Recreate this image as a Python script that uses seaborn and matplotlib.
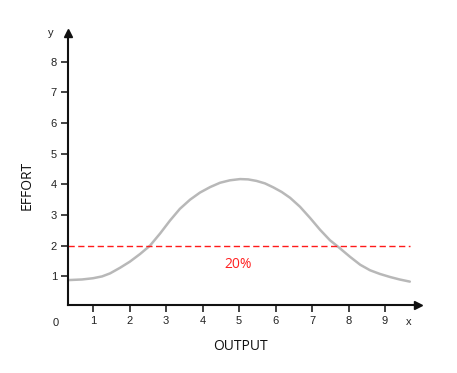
import numpy as np
import pandas as pd
import matplotlib
matplotlib.use("Agg")
import matplotlib.pyplot as plt
import seaborn as sns

# Data
output_x = [0.33, 0.7, 1.0, 1.25, 1.47, 1.74, 2.01, 2.29, 2.56, 2.84, 3.11, 3.38, 3.66,
            3.93, 4.21, 4.48, 4.75, 5.03, 5.25, 5.48, 5.71, 5.94, 6.17, 6.4, 6.67,
            6.95, 7.22, 7.49, 7.72, 8.04, 8.32, 8.59, 8.86, 9.14, 9.4, 9.68]
effort_y = [0.88, 0.90, 0.94, 1.00, 1.10, 1.28, 1.48, 1.73, 2.00, 2.40, 2.82, 3.20, 3.50,
            3.73, 3.91, 4.05, 4.13, 4.17, 4.16, 4.11, 4.03, 3.90, 3.75, 3.56, 3.27,
            2.90, 2.52, 2.18, 1.96, 1.64, 1.38, 1.20, 1.08, 0.98, 0.90, 0.83]
threshold = 2.0
threshold_label = "20%"
x_ticks = [1, 2, 3, 4, 5, 6, 7, 8, 9]
y_ticks = [1, 2, 3, 4, 5, 6, 7, 8]

df = pd.DataFrame({"OUTPUT": output_x, "EFFORT": effort_y})

sns.set_style("white")
plt.rcParams['font.family'] = ['Liberation Sans', 'DejaVu Sans']

W, H = 457, 373
fig = plt.figure(figsize=(W / 100, H / 100), dpi=100)
ax = fig.add_axes([68 / W, 1 - 305 / H, (418 - 68) / W, (305 - 33) / H])

x0 = (68 - 56.5) / 36.5
x1 = (418 - 56.5) / 36.5
y0 = (307.1 - 305) / 30.7
y1 = (307.1 - 33) / 30.7

sns.lineplot(data=df, x="OUTPUT", y="EFFORT", ax=ax, color="#b8b8b8", linewidth=1.8, sort=False)
ax.plot([x0, 9.68], [threshold, threshold], color="#ff1a1a", linewidth=1.0,
        dashes=(4.5, 2.5))
ax.text(4.97, 1.40, threshold_label, color="#ff2020", fontsize=10, family=['Open Sans', 'DejaVu Sans'],
        ha="center", va="center")

ax.set_xlim(x0, x1)
ax.set_ylim(y0, y1)
ax.set_xticks(x_ticks)
ax.set_yticks(y_ticks)
ax.set_xticklabels([str(t) for t in x_ticks])
ax.set_yticklabels([str(t) for t in y_ticks])
ax.tick_params(axis="both", direction="out", length=5, width=1.2, color="#222222",
               labelsize=8, labelcolor="#222222", pad=3, bottom=True, left=True)

for s in ["top", "right"]:
    ax.spines[s].set_visible(False)
for s in ["left", "bottom"]:
    ax.spines[s].set_linewidth(1.5)
    ax.spines[s].set_color("#111111")

ax.plot(1, 0, marker=">", color="#111111", markersize=6, transform=ax.transAxes, clip_on=False)
ax.plot(0, 1, marker="^", color="#111111", markersize=6, transform=ax.transAxes, clip_on=False)

ax.set_xlabel("")
ax.set_ylabel("")
fig.text(240 / W, 1 - 347 / H, "OUTPUT", fontsize=10, family=['Open Sans', 'DejaVu Sans'],
         ha="center", va="center", color="#111111")
fig.text(27 / W, 1 - 185 / H, "EFFORT", fontsize=10, family=['Open Sans', 'DejaVu Sans'],
         ha="center", va="center", rotation=90, color="#111111")
fig.text(51 / W, 1 - 33 / H, "y", fontsize=8, ha="center", va="center", color="#222222")
fig.text(409 / W, 1 - 322 / H, "x", fontsize=8, ha="center", va="center", color="#222222")
fig.text(56 / W, 1 - 323 / H, "0", fontsize=8, ha="center", va="center", color="#222222")

fig.savefig("out.png", dpi=100)
